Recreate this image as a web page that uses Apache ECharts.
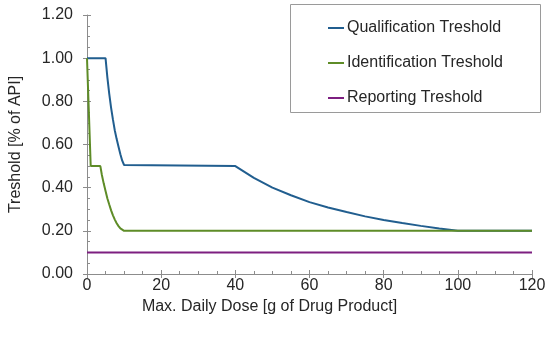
<!DOCTYPE html>
<html>
<head>
<meta charset="utf-8">
<script src="https://cdn.jsdelivr.net/npm/echarts@6/dist/echarts.min.js"></script>
<style>
html,body{margin:0;padding:0;background:#fff;}
#chart{width:550px;height:341px;}
</style>
</head>
<body>
<div id="chart"></div>
<script>
const seriesNames = ['Qualification Treshold', 'Identification Treshold', 'Reporting Treshold'];
const qualX = [0, 5, 5.5, 6, 6.5, 7, 7.5, 8, 8.5, 9, 9.5, 10, 10.5, 40, 45, 50, 55, 60, 65, 70, 75, 80, 85, 90, 95, 100, 120];
const qualY = [1.0, 1.0, 0.91, 0.835, 0.77, 0.715, 0.665, 0.625, 0.59, 0.555, 0.525, 0.505, 0.5, 0.5, 0.445, 0.40, 0.365, 0.333, 0.308, 0.287, 0.267, 0.25, 0.236, 0.223, 0.211, 0.2, 0.2];
const identX = [0, 0.5, 1.0, 3.6, 4, 4.5, 5, 5.5, 6, 6.5, 7, 7.5, 8, 8.5, 9, 9.5, 10, 120];
const identY = [1.0, 0.75, 0.5, 0.5, 0.46, 0.42, 0.385, 0.35, 0.322, 0.295, 0.272, 0.252, 0.235, 0.222, 0.211, 0.204, 0.2, 0.2];
const reportX = [0, 120];
const reportY = [0.1, 0.1];
const xTickLabels = ['0', '20', '40', '60', '80', '100', '120'];
const yTickLabels = ['0.00', '0.20', '0.40', '0.60', '0.80', '1.00', '1.20'];
const colors = ['#215e8f', '#5e8c27', '#7d1f80'];

const pairs = (xs, ys) => xs.map((x, i) => [x, ys[i]]);
const font = 'Liberation Sans, Arial, sans-serif';
const axisGray = '#8c8c8c';
const textColor = '#262626';

const chart = echarts.init(document.getElementById('chart'), null, {renderer: 'canvas'});
chart.setOption({
  backgroundColor: '#ffffff',
  animation: false,
  grid: {left: 87, right: 18, top: 15, bottom: 67, containLabel: false},
  xAxis: [{
    type: 'value', min: 0, max: 120, interval: 20, position: 'bottom',
    name: 'Max. Daily Dose [g of Drug Product]', nameLocation: 'middle', nameGap: 18,
    nameTextStyle: {fontFamily: font, fontSize: 16, color: textColor, padding: [0, 80, 0, 0]},
    axisLine: {show: true, lineStyle: {color: axisGray, width: 1}},
    axisTick: {show: true, inside: false, length: 4, lineStyle: {color: axisGray}},
    axisLabel: {fontFamily: font, fontSize: 16, color: textColor, margin: 4,
      formatter: (v) => xTickLabels[Math.round(v / 20)]},
    splitLine: {show: false}
  }, {
    type: 'value', min: 0, max: 120, interval: 20, position: 'bottom',
    axisLine: {show: false},
    axisTick: {show: true, inside: true, length: 4, lineStyle: {color: axisGray}},
    minorTick: {show: true, splitNumber: 4, length: 3, lineStyle: {color: axisGray}},
    axisLabel: {show: false},
    splitLine: {show: false}
  }],
  yAxis: [{
    type: 'value', min: 0, max: 1.2, interval: 0.2, position: 'left',
    name: 'Treshold [% of API]', nameLocation: 'middle', nameGap: 63, nameRotate: 90,
    nameTextStyle: {fontFamily: font, fontSize: 16, color: textColor},
    axisLine: {show: true, lineStyle: {color: axisGray, width: 1}},
    axisTick: {show: true, inside: false, length: 4, lineStyle: {color: axisGray}},
    axisLabel: {fontFamily: font, fontSize: 16, color: textColor, margin: 14,
      formatter: (v) => yTickLabels[Math.round(v / 0.2)]},
    splitLine: {show: false}
  }, {
    type: 'value', min: 0, max: 1.2, interval: 0.2, position: 'left',
    axisLine: {show: false},
    axisTick: {show: true, inside: true, length: 4, lineStyle: {color: axisGray}},
    minorTick: {show: true, splitNumber: 4, length: 3, lineStyle: {color: axisGray}},
    axisLabel: {show: false},
    splitLine: {show: false}
  }],
  legend: {
    orient: 'vertical', left: 323, top: 15, itemGap: 19,
    icon: 'rect', itemWidth: 16, itemHeight: 2,
    textStyle: {fontFamily: font, fontSize: 16, color: textColor, padding: [0, 0, 0, -2]},
    data: seriesNames
  },
  graphic: [{
    type: 'rect', left: 290, top: 4,
    shape: {x: 0, y: 0, width: 250, height: 108},
    style: {fill: 'rgba(0,0,0,0)', stroke: '#9a9a9a', lineWidth: 1},
    z: 0
  }],
  series: [
    {name: seriesNames[0], type: 'line', xAxisIndex: 0, yAxisIndex: 0, showSymbol: false, symbol: 'none',
     data: pairs(qualX, qualY), lineStyle: {color: colors[0], width: 2}, itemStyle: {color: colors[0]}},
    {name: seriesNames[1], type: 'line', xAxisIndex: 0, yAxisIndex: 0, showSymbol: false, symbol: 'none',
     data: pairs(identX, identY), lineStyle: {color: colors[1], width: 2}, itemStyle: {color: colors[1]}},
    {name: seriesNames[2], type: 'line', xAxisIndex: 0, yAxisIndex: 0, showSymbol: false, symbol: 'none',
     data: pairs(reportX, reportY), lineStyle: {color: colors[2], width: 2}, itemStyle: {color: colors[2]}}
  ]
});
</script>
</body>
</html>
